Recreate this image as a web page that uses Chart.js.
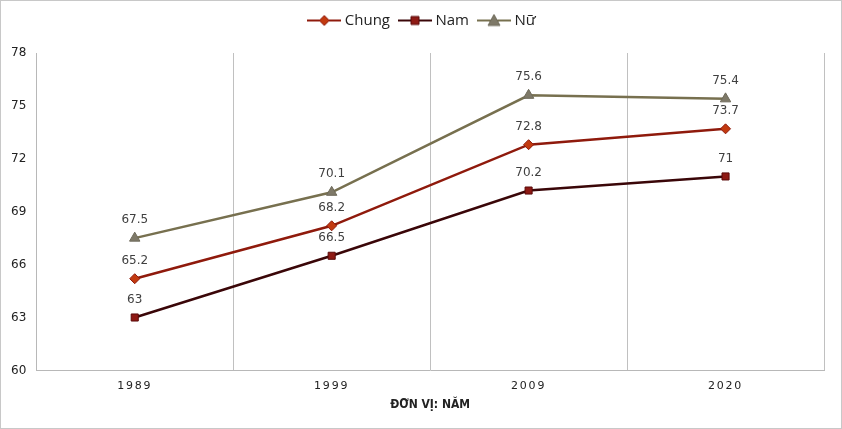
<!DOCTYPE html>
<html>
<head>
<meta charset="utf-8">
<script src="https://cdn.jsdelivr.net/npm/chart.js@4"></script>
<style>
  html, body { margin: 0; padding: 0; background: #fff; }
  #wrap { width: 840px; height: 427px; border: 1px solid #c8c8c8; position: relative; }
</style>
</head>
<body>
<div id="wrap"><canvas id="myChart"></canvas></div>
<script>
// data
const years = ["1989", "1999", "2009", "2020"];
const chung = [65.2, 68.2, 72.8, 73.7];
const nam = [63, 66.5, 70.2, 71];
const nu = [67.5, 70.1, 75.6, 75.4];

// legend icon: line with marker in the middle
function legendIcon(lineColor, style, fill, stroke) {
  const c = document.createElement("canvas");
  c.width = 34;
  c.height = 14;
  const g = c.getContext("2d");
  g.strokeStyle = lineColor;
  g.lineWidth = 2;
  g.beginPath();
  g.moveTo(0, 7);
  g.lineTo(34, 7);
  g.stroke();
  g.fillStyle = fill;
  g.strokeStyle = stroke;
  g.lineWidth = 1;
  g.beginPath();
  if (style === "rectRot") {
    g.moveTo(17, 2); g.lineTo(22, 7); g.lineTo(17, 12); g.lineTo(12, 7);
  } else if (style === "rect") {
    g.rect(13, 3, 8, 8);
  } else {
    g.moveTo(17, 1); g.lineTo(23, 12); g.lineTo(11, 12);
  }
  g.closePath();
  g.fill();
  g.stroke();
  return c;
}

// value labels above the points
const valueLabels = {
  id: "valueLabels",
  afterDatasetsDraw(chart) {
    const { ctx } = chart;
    ctx.save();
    ctx.font = "12px 'DejaVu Sans'";
    ctx.fillStyle = "#404040";
    ctx.textAlign = "center";
    ctx.textBaseline = "bottom";
    chart.data.datasets.forEach((ds, i) => {
      chart.getDatasetMeta(i).data.forEach((pt, j) => {
        ctx.fillText(String(ds.data[j]), pt.x, pt.y - 12);
      });
    });
    ctx.restore();
  },
};

// spaced-out year labels on the x axis, legend nudged and given more room
const spacedX = {
  id: "spacedX",
  beforeInit(chart) {
    const lg = chart.legend;
    const fit = lg.fit;
    lg.fit = function () {
      fit.call(this);
      this.height += 15;
    };
    const draw = lg.draw;
    lg.draw = function () {
      chart.ctx.save();
      chart.ctx.translate(11, 0);
      draw.call(this);
      chart.ctx.restore();
    };
  },
  afterUpdate(chart) {
    const xs = chart.scales.x;
    if (xs._spaced) return;
    const orig = xs.drawLabels.bind(xs);
    xs.drawLabels = function (area) {
      chart.ctx.save();
      chart.ctx.letterSpacing = "1.8px";
      orig(area);
      chart.ctx.restore();
    };
    xs._spaced = true;
  },
};

const config = {
  type: "line",
  data: {
    labels: years,
    datasets: [
      {
        label: "Chung",
        data: chung,
        borderColor: "#8f1a0c",
        backgroundColor: "#c23a10",
        pointBorderColor: "#8f1a0c",
        pointStyle: "rectRot",
        pointRadius: 5,
        pointBorderWidth: 1,
        borderWidth: 2.5,
        tension: 0,
      },
      {
        label: "Nam",
        data: nam,
        borderColor: "#3a0608",
        backgroundColor: "#8e1a14",
        pointBorderColor: "#5a0a0a",
        pointStyle: "rect",
        pointRadius: 5,
        pointBorderWidth: 1,
        borderWidth: 2.5,
        tension: 0,
      },
      {
        label: "Nữ",
        data: nu,
        borderColor: "#77704f",
        backgroundColor: "#7e7968",
        pointBorderColor: "#6e6a5a",
        pointStyle: "triangle",
        pointRadius: 6,
        pointBorderWidth: 1,
        borderWidth: 2.5,
        tension: 0,
      },
    ],
  },
  options: {
    responsive: true,
    maintainAspectRatio: false,
    animation: false,
    layout: {
      padding: { left: 0, right: 17, top: 0, bottom: 16 },
    },
    scales: {
      x: {
        offset: true,
        grid: {
          offset: true,
          color: "#c0c0c0",
          lineWidth: 1,
          drawTicks: false,
        },
        border: { color: "#b8b8b8", width: 1 },
        ticks: {
          color: "#222",
          font: { family: "'DejaVu Sans'", size: 11 },
          padding: 9,
        },
        title: {
          display: true,
          text: "ĐƠN VỊ: NĂM",
          color: "#222",
          font: { family: "'DejaVu Sans Condensed'", size: 12, weight: "bold" },
          padding: { top: -4, bottom: 0 },
        },
      },
      y: {
        min: 60,
        max: 78,
        grid: { display: false, drawTicks: false },
        border: { color: "#b8b8b8", width: 1 },
        ticks: {
          stepSize: 3,
          color: "#222",
          font: { family: "'DejaVu Sans'", size: 12 },
          padding: 10,
        },
      },
    },
    plugins: {
      legend: {
        position: "top",
        labels: {
          usePointStyle: true,
          pointStyleWidth: 26,
          color: "#222",
          font: { family: "'Open Sans'", size: 15 },
          padding: 12,
          generateLabels(chart) {
            return chart.data.datasets.map((ds, i) => ({
              text: ds.label,
              datasetIndex: i,
              fontColor: "#222",
              pointStyle: legendIcon(ds.borderColor, ds.pointStyle, ds.backgroundColor, ds.pointBorderColor),
              lineWidth: 0,
              strokeStyle: "transparent",
              fillStyle: "transparent",
            }));
          },
        },
      },
      tooltip: { enabled: false },
    },
  },
  plugins: [valueLabels, spacedX],
};

const myChart = new Chart(document.getElementById("myChart"), config);
</script>
</body>
</html>
